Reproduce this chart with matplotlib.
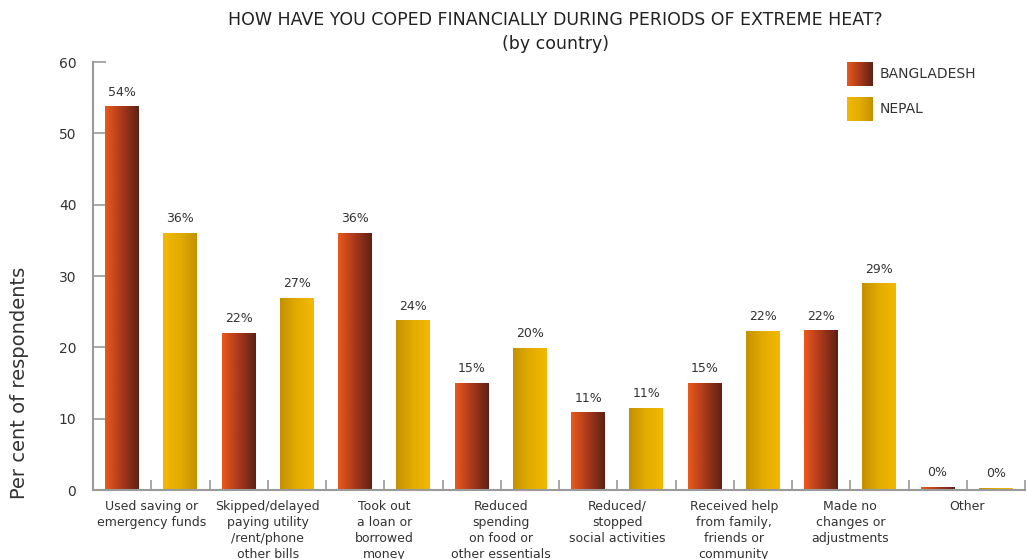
import numpy as np
import matplotlib.pyplot as plt
from matplotlib.colors import LinearSegmentedColormap

# Respostas por país (% dos entrevistados)
categorias = [
    'Used saving or\nemergency funds',
    'Skipped/delayed\npaying utility\n/rent/phone\nother bills',
    'Took out\na loan or\nborrowed\nmoney',
    'Reduced\nspending\non food or\nother essentials',
    'Reduced/\nstopped\nsocial activities',
    'Received help\nfrom family,\nfriends or\ncommunity',
    'Made no\nchanges or\nadjustments',
    'Other',
]
bangladesh = [53.7, 21.9, 36.0, 15.0, 10.8, 14.9, 22.3, 0.4]
nepal = [36.0, 26.9, 23.7, 19.8, 11.4, 22.2, 28.9, 0.2]
paises = ['BANGLADESH', 'NEPAL']

COR_TEXTO = '#333333'
COR_EIXO = '#9a9a9a'
FONTE = 'DejaVu Sans'

cmap_bd = LinearSegmentedColormap.from_list('bd', ['#e95a1c', '#a9381c', '#5c2215'])
cmap_np = LinearSegmentedColormap.from_list('np', ['#f3b900', '#e2ac00', '#c39100'])
gradiente = np.linspace(0, 1, 256).reshape(1, -1)

plt.rcParams['font.family'] = FONTE


def pintar_gradiente(ax, barras, cmap, inverter=None):
    """Preenche cada barra com um degradê horizontal."""
    for i, b in enumerate(barras):
        x0, w, h = b.get_x(), b.get_width(), b.get_height()
        g = gradiente[:, ::-1] if (inverter and inverter(i)) else gradiente
        ax.imshow(g, cmap=cmap, extent=(x0, x0 + w, 0, h), aspect='auto',
                  interpolation='bicubic', zorder=2)


fig = plt.figure(figsize=(10.27, 5.59), dpi=100)
ax = fig.add_axes([93 / 1027, 69 / 559, 932 / 1027, 428 / 559])

x = np.arange(len(categorias))
largura = 0.29
barras_bd = ax.bar(x - 0.25, bangladesh, largura, color='none', zorder=1)
barras_np = ax.bar(x + 0.25, nepal, largura, color='none', zorder=1)

pintar_gradiente(ax, barras_bd, cmap_bd)
# a primeira barra do Nepal tem o degradê no sentido oposto
pintar_gradiente(ax, barras_np, cmap_np, inverter=lambda i: i != 0)

for barras, valores in [(barras_bd, bangladesh), (barras_np, nepal)]:
    for b, v in zip(barras, valores):
        ax.annotate(f'{v:.0f}%', (b.get_x() + b.get_width() / 2, v),
                    xytext=(0, 6), textcoords='offset points', ha='center',
                    va='bottom', fontsize=9, color=COR_TEXTO)

ax.set_xlim(-0.5, len(categorias) - 0.5)
ax.set_ylim(0, 60)
ax.set_yticks(range(0, 61, 10))
ax.set_xticks(x)
ax.set_xticklabels(categorias, fontsize=9, color=COR_TEXTO, linespacing=1.3)
ax.set_xticks(np.arange(-0.5, len(categorias), 1.0), minor=True)

ax.tick_params(axis='y', direction='in', length=9, width=1.2, color=COR_EIXO,
               labelsize=10, labelcolor=COR_TEXTO, pad=12)
ax.tick_params(axis='x', which='both', direction='in', length=7, width=1.2,
               color=COR_EIXO, pad=7)

for lado in ['top', 'right']:
    ax.spines[lado].set_visible(False)
for lado in ['left', 'bottom']:
    ax.spines[lado].set_color(COR_EIXO)
    ax.spines[lado].set_linewidth(1.5)

fig.text(0.5405, 1 - 20 / 559, 'HOW HAVE YOU COPED FINANCIALLY DURING PERIODS OF EXTREME HEAT?',
         ha='center', va='center', fontsize=12.5, color='#222222')
fig.text(0.5405, 1 - 44 / 559, '(by country)', ha='center', va='center',
         fontsize=12.5, color='#222222')
fig.text(20 / 1027, 1 - 383 / 559, 'Per cent of respondents', rotation=90,
         ha='center', va='center', fontsize=14, color=COR_TEXTO)

# legenda com os mesmos degradês das barras
for k, (nome, cmap) in enumerate(zip(paises, [cmap_bd, cmap_np])):
    topo = 62 + k * 35
    lax = fig.add_axes([847 / 1027, 1 - (topo + 24) / 559, 25 / 1027, 24 / 559])
    lax.imshow(gradiente, cmap=cmap, aspect='auto', interpolation='bicubic')
    lax.axis('off')
    fig.text(880 / 1027, 1 - (topo + 12) / 559, nome, ha='left', va='center',
             fontsize=10, color=COR_TEXTO)

fig.savefig('out.png', dpi=100)
